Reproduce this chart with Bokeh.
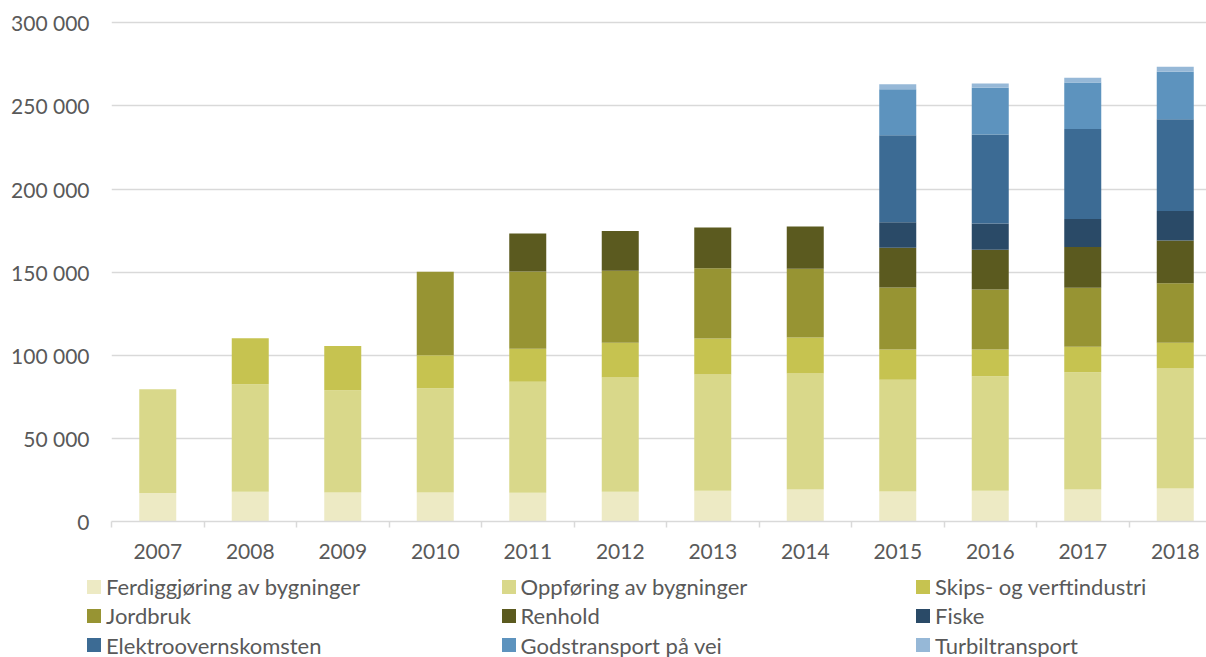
from bokeh.plotting import figure
from bokeh.models import (ColumnDataSource, Range1d, FixedTicker, Div)
from bokeh.layouts import column
from bokeh.embed import file_html
from bokeh.resources import INLINE

years = [2007, 2008, 2009, 2010, 2011, 2012, 2013, 2014, 2015, 2016, 2017, 2018]
ferdig = [17100, 17900, 17500, 17500, 17300, 17900, 18500, 19300, 18000, 18500, 19300, 19900]
oppforing = [62400, 64700, 61400, 62600, 66800, 68700, 69900, 69700, 67300, 68900, 70500, 72100]
skips = [0, 27700, 26700, 19900, 19900, 20900, 21700, 21700, 18100, 16100, 15300, 15500]
jordbruk = [0, 0, 0, 50200, 46400, 43400, 42200, 41400, 37400, 36100, 35500, 35900]
renhold = [0, 0, 0, 0, 22900, 23900, 24500, 25300, 23900, 23900, 24500, 25700]
fiske = [0, 0, 0, 0, 0, 0, 0, 0, 15400, 15700, 16900, 17700]
elektro = [0, 0, 0, 0, 0, 0, 0, 0, 52200, 53600, 54200, 55200]
gods = [0, 0, 0, 0, 0, 0, 0, 0, 27700, 28100, 27900, 28500]
turbil = [0, 0, 0, 0, 0, 0, 0, 0, 3000, 2600, 2800, 3000]

series_names = ["Ferdiggjøring av bygninger", "Oppføring av bygninger", "Skips- og verftindustri",
                "Jordbruk", "Renhold", "Fiske", "Elektroovernskomsten",
                "Godstransport på vei", "Turbiltransport"]
series_keys = ["ferdig", "oppforing", "skips", "jordbruk", "renhold", "fiske", "elektro", "gods", "turbil"]
colors = ["#EDEAC4", "#D9D88A", "#C6C350", "#979433", "#5B5A1F", "#2A4A67", "#3C6B94", "#5D93BE", "#96B8D7"]

y_ticks = [0, 50000, 100000, 150000, 200000, 250000, 300000]
y_tick_labels = ["0", "50 000", "100 000", "150 000", "200 000", "250 000", "300 000"]

source = ColumnDataSource(dict(year=years, ferdig=ferdig, oppforing=oppforing, skips=skips,
                               jordbruk=jordbruk, renhold=renhold, fiske=fiske, elektro=elektro,
                               gods=gods, turbil=turbil))

FONT = "Lato"
TXT = "#595959"
GRID = "#D9D9D9"

p = figure(width=1206, height=572, output_backend="svg", toolbar_location=None,
           x_range=Range1d(2006.5, 2006.5 + 1095 / 92.5), y_range=Range1d(0, 302000),
           min_border_left=111, min_border_right=0, min_border_top=19, min_border_bottom=51)
p.outline_line_color = None

renderers = p.vbar_stack(series_keys, x="year", width=0.4, color=colors, line_color=None, source=source)

# axes
p.yaxis.ticker = FixedTicker(ticks=y_ticks)
p.yaxis.major_label_overrides = {t: l for t, l in zip(y_ticks, y_tick_labels)}
p.yaxis.axis_line_color = None
p.yaxis.major_tick_line_color = None
p.yaxis.minor_tick_line_color = None
p.yaxis.major_tick_out = 0
p.yaxis.major_tick_in = 0
p.yaxis.major_label_standoff = 22
p.yaxis.major_label_text_font = FONT
p.yaxis.major_label_text_font_size = "21px"
p.yaxis.major_label_text_color = TXT

p.xaxis.ticker = FixedTicker(ticks=years, minor_ticks=[y - 0.5 for y in years] + [years[-1] + 0.5])
p.xaxis.major_label_overrides = {y: str(y) for y in years}
p.xaxis.axis_line_color = GRID
p.xaxis.axis_line_width = 1.5
p.xaxis.major_tick_line_color = None
p.xaxis.minor_tick_line_color = GRID
p.xaxis.minor_tick_line_width = 1.5
p.xaxis.minor_tick_out = 6
p.xaxis.minor_tick_in = 0
p.xaxis.major_tick_out = 0
p.xaxis.major_tick_in = 0
p.xaxis.major_label_standoff = 16
p.xaxis.major_label_text_font = FONT
p.xaxis.major_label_text_font_size = "21px"
p.xaxis.major_label_text_color = TXT

p.xgrid.grid_line_color = None
p.ygrid.ticker = FixedTicker(ticks=y_ticks)
p.ygrid.grid_line_color = GRID
p.ygrid.grid_line_width = 1.5

# legend below the chart: 3 columns, filled row by row
entries = []
for i, (name, col) in enumerate(zip(series_names, colors)):
    c, r = i % 3, i // 3
    left = 82 + c * 414.5
    top = -5 + r * 29.3
    entries.append(
        f'<div style="position:absolute;left:{left:.1f}px;top:{top:.1f}px;height:29px;'
        f'display:flex;align-items:center;white-space:nowrap;">'
        f'<span style="display:inline-block;width:14px;height:14px;background:{col};margin-right:5px;"></span>'
        f'<span>{name}</span></div>'
    )
html = ('<div style="position:relative;width:1206px;height:85px;'
        f'font-family:{FONT};font-size:22px;color:{TXT};line-height:29px;">'
        + "".join(entries) + '</div>')
legend_div = Div(text=html, width=1206, height=85)

open("out.html", "w").write(file_html(column(p, legend_div, spacing=0), INLINE))
